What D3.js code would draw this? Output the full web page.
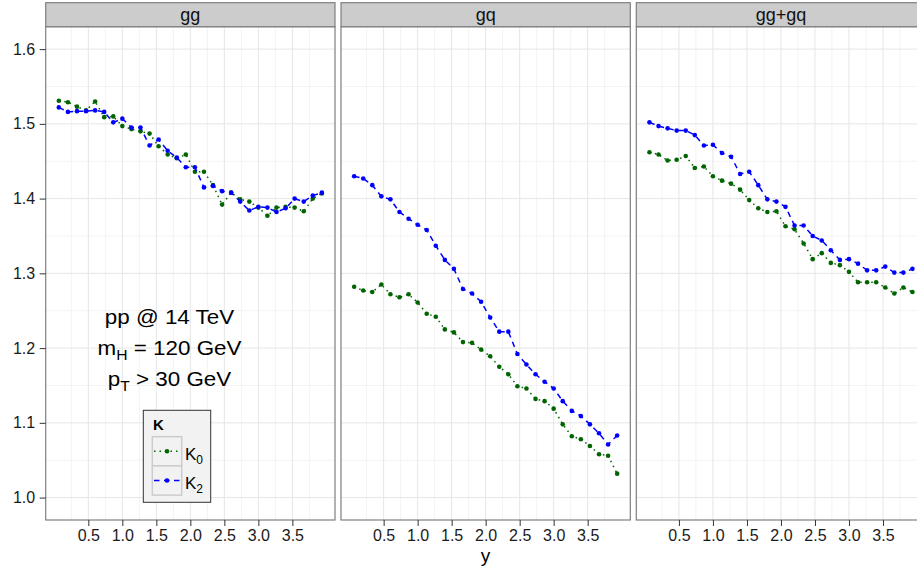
<!DOCTYPE html>
<html><head><meta charset="utf-8">
<script src="https://cdn.jsdelivr.net/npm/d3@7/dist/d3.min.js"></script>
<style>
body{margin:0;background:#fff;}
svg{display:block;font-family:"Liberation Sans",Arial,Helvetica,sans-serif;}
</style>
</head><body>
<svg id="c" width="917" height="571"></svg>
<script>
// ---- data ----
const yCenters = [0.0667,0.2,0.3333,0.4667,0.6,0.7333,0.8667,1.0,1.1333,1.2667,1.4,1.5333,1.6667,1.8,1.9333,
                  2.0667,2.2,2.3333,2.4667,2.6,2.7333,2.8667,3.0,3.1333,3.2667,3.4,3.5333,3.6667,3.8,3.9333];
const panelNames = ["gg","gq","gg+gq"];
const ggK0  = [1.531,1.529,1.523,1.518,1.530,1.509,1.510,1.497,1.493,1.490,1.487,1.470,1.459,1.454,1.459,
               1.436,1.436,1.418,1.392,1.408,1.399,1.396,1.388,1.377,1.388,1.389,1.388,1.383,1.400,1.407];
const ggK2  = [1.522,1.516,1.517,1.517,1.518,1.516,1.502,1.507,1.495,1.495,1.471,1.479,1.464,1.455,1.442,
               1.442,1.415,1.417,1.410,1.408,1.396,1.384,1.389,1.388,1.382,1.387,1.400,1.396,1.404,1.408];
const gqK0  = [1.282,1.277,1.275,1.285,1.272,1.268,1.272,1.261,1.246,1.242,1.225,1.221,1.208,1.207,1.198,
               1.189,1.175,1.165,1.149,1.146,1.132,1.129,1.119,1.098,1.082,1.078,1.069,1.058,1.056,1.032];
const gqK2  = [1.430,1.427,1.418,1.403,1.399,1.382,1.373,1.365,1.358,1.337,1.318,1.306,1.279,1.273,1.262,
               1.241,1.222,1.222,1.192,1.178,1.165,1.155,1.146,1.129,1.116,1.109,1.098,1.086,1.071,1.083];
const sumK0 = [1.462,1.459,1.451,1.452,1.457,1.441,1.443,1.430,1.424,1.420,1.412,1.398,1.387,1.382,1.383,
               1.363,1.359,1.340,1.319,1.327,1.314,1.311,1.302,1.288,1.288,1.288,1.281,1.273,1.281,1.275];
const sumK2 = [1.502,1.497,1.494,1.491,1.491,1.485,1.471,1.472,1.461,1.456,1.433,1.436,1.418,1.399,1.396,
               1.389,1.364,1.364,1.350,1.344,1.331,1.318,1.319,1.313,1.304,1.304,1.309,1.301,1.301,1.306];
const xTickValues  = [0.5,1.0,1.5,2.0,2.5,3.0,3.5];
const xMinorValues = [0.25,0.75,1.25,1.75,2.25,2.75,3.25,3.75];
const yTickValues  = [1.0,1.1,1.2,1.3,1.4,1.5,1.6];
const yMinorValues = [1.05,1.15,1.25,1.35,1.45,1.55];
const panelSeries = [[ggK0,ggK2],[gqK0,gqK2],[sumK0,sumK2]];
const seriesLabels = ["0","2"];

(function(){
const colK0 = "#006400", colK2 = "#0000FF";
const pw = 289.3, ph = 493.3, panelTop = 26.7, left0 = 45.7, gap = 6.0;
const svg = d3.select("#c");
svg.append("rect").attr("width",917).attr("height",571).attr("fill","#fff");

const x = d3.scaleLinear().domain([-0.1267, 4.1267]).range([0, pw]);
const y = d3.scaleLinear().domain([0.97, 1.63]).range([ph, 0]);

const styles = [
  {color: colK0, dash: "1.5,4", width: 1.5},
  {color: colK2, dash: "5.5,4.5", width: 1.5}
];

panelNames.forEach((name, p) => {
  const g = svg.append("g").attr("transform", `translate(${left0 + p*(pw+gap)},${panelTop})`);
  g.append("rect").attr("width", pw).attr("height", ph).attr("fill", "#fff");
  g.selectAll(".vmin").data(xMinorValues).enter().append("line")
    .attr("x1", d=>x(d)).attr("x2", d=>x(d)).attr("y1",0).attr("y2",ph)
    .attr("stroke","#F3F3F3").attr("stroke-width",1);
  g.selectAll(".hmin").data(yMinorValues).enter().append("line")
    .attr("y1", d=>y(d)).attr("y2", d=>y(d)).attr("x1",0).attr("x2",pw)
    .attr("stroke","#F3F3F3").attr("stroke-width",1);
  g.selectAll(".vmaj").data(xTickValues).enter().append("line")
    .attr("x1", d=>x(d)).attr("x2", d=>x(d)).attr("y1",0).attr("y2",ph)
    .attr("stroke","#E6E6E6").attr("stroke-width",1);
  g.selectAll(".hmaj").data(yTickValues).enter().append("line")
    .attr("y1", d=>y(d)).attr("y2", d=>y(d)).attr("x1",0).attr("x2",pw)
    .attr("stroke","#E6E6E6").attr("stroke-width",1);

  panelSeries[p].forEach((vals, s) => {
    const pts = yCenters.map((c,i)=>[c, vals[i]]);
    const line = d3.line().x(d=>x(d[0])).y(d=>y(d[1]));
    g.append("path").attr("d", line(pts)).attr("fill","none")
      .attr("stroke", styles[s].color).attr("stroke-width", styles[s].width)
      .attr("stroke-dasharray", styles[s].dash);
    g.selectAll(null).data(pts).enter().append("circle")
      .attr("cx", d=>x(d[0])).attr("cy", d=>y(d[1])).attr("r", 2.3)
      .attr("fill", styles[s].color);
  });

  g.append("rect").attr("width", pw).attr("height", ph).attr("fill","none")
    .attr("stroke","#7F7F7F").attr("stroke-width",1.2);
  g.append("rect").attr("x",0).attr("y",-24).attr("width",pw).attr("height",24)
    .attr("fill","#CCCCCC").attr("stroke","#7F7F7F").attr("stroke-width",1.2);
  g.append("text").attr("x", pw/2).attr("y", -5.5).attr("text-anchor","middle")
    .attr("font-size",18).attr("fill","#111").text(name);

  const xa = g.append("g").attr("transform", `translate(0,${ph})`)
    .call(d3.axisBottom(x).tickValues(xTickValues).tickFormat(d3.format(".1f")).tickSize(6).tickPadding(4));
  xa.select(".domain").remove();
  xa.selectAll("line").attr("stroke","#333");
  xa.selectAll("text").attr("font-size",16).attr("fill","#1a1a1a").attr("font-family","Liberation Sans, Arial, sans-serif");

  if (p === 0) {
    const ya = g.append("g")
      .call(d3.axisLeft(y).tickValues(yTickValues).tickFormat(d3.format(".1f")).tickSize(6).tickPadding(4.5));
    ya.select(".domain").remove();
    ya.selectAll("line").attr("stroke","#333");
    ya.selectAll("text").attr("font-size",16).attr("fill","#1a1a1a").attr("font-family","Liberation Sans, Arial, sans-serif");
  }
});

svg.append("text").attr("x", 485.5).attr("y", 562).attr("text-anchor","middle")
  .attr("font-size",19).attr("fill","#000").text("y");

const ann = svg.append("g");
function annLine(yb, parts) {
  const t = ann.append("text").attr("transform", `translate(169.5,${yb}) scale(1.12,1)`)
    .attr("text-anchor","middle").attr("font-size",20).attr("fill","#000");
  parts.forEach(pt => {
    const ts = t.append("tspan").text(pt.t);
    if (pt.sub) ts.attr("font-size",14).attr("dy",5);
    if (pt.up) ts.attr("dy",-5);
  });
}
annLine(324.3, [{t:"pp @ 14 TeV"}]);
annLine(355, [{t:"m"},{t:"H",sub:true},{t:" = 120 GeV",up:true}]);
annLine(385.5, [{t:"p"},{t:"T",sub:true},{t:" > 30 GeV",up:true}]);

const lg = svg.append("g");
lg.append("rect").attr("x",143.3).attr("y",410.3).attr("width",67.4).attr("height",92)
  .attr("fill","#F2F2F2").attr("stroke","#333").attr("stroke-width",1);
lg.append("text").attr("x",153).attr("y",430).attr("font-size",15).attr("font-weight","bold")
  .attr("fill","#000").text("K");
styles.forEach((st, i) => {
  const ky = 436.7 + i*29.2;
  lg.append("rect").attr("x",152.3).attr("y",ky).attr("width",29.4).attr("height",29.2)
    .attr("fill","#F2F2F2").attr("stroke","#CCCCCC").attr("stroke-width",1.5);
  const cy = ky + 14.6;
  lg.append("line").attr("x1",154).attr("x2",180).attr("y1",cy).attr("y2",cy)
    .attr("stroke",st.color).attr("stroke-width",st.width).attr("stroke-dasharray",st.dash);
  lg.append("circle").attr("cx",167).attr("cy",cy).attr("r",2.3).attr("fill",st.color);
  const t = lg.append("text").attr("x",185).attr("y",cy+8.5).attr("font-size",17).attr("fill","#000");
  t.append("tspan").text("K");
  t.append("tspan").attr("font-size",12).attr("dy",4).text(seriesLabels[i]);
});
})();
</script>
</body></html>
